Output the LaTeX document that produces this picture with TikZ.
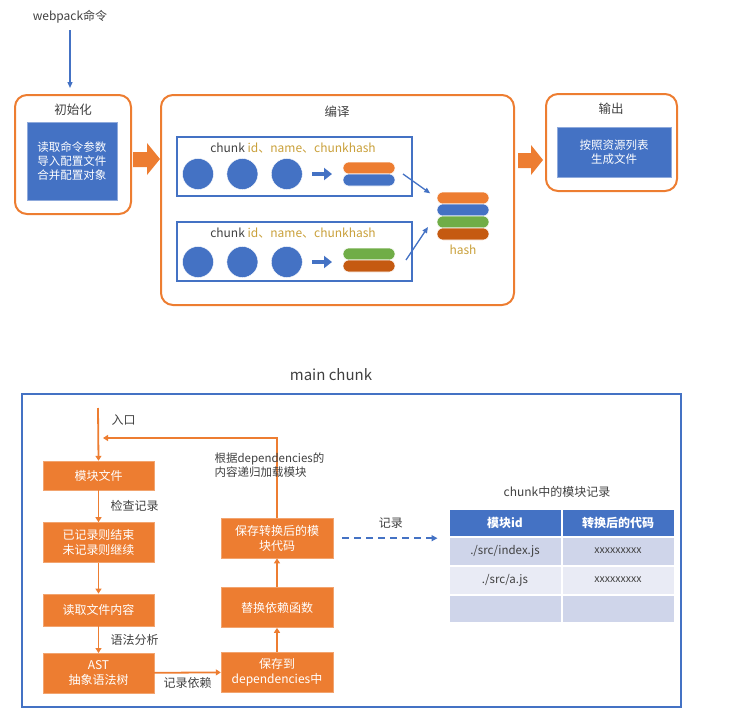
\documentclass[tikz,border=0pt]{standalone}
\usepackage{fontspec}
\setmainfont{Noto Sans CJK SC}
\usetikzlibrary{positioning,arrows.meta,calc}

\definecolor{orng}{HTML}{ED7D31}
\definecolor{blu}{HTML}{4472C4}
\definecolor{grn}{HTML}{70AD47}
\definecolor{brn}{HTML}{C55A11}
\definecolor{gold}{HTML}{C9A03A}
\definecolor{txt}{HTML}{404040}
\definecolor{rowa}{HTML}{CFD5EA}
\definecolor{rowb}{HTML}{E9EBF5}

\newcommand{\fs}[1]{\fontsize{#1pt}{\dimexpr#1pt*5/4\relax}\selectfont}

\begin{document}
\begin{tikzpicture}[
  x=1pt, y=-1pt,
  font=\fs{11.5}, text=txt,
  stagebox/.style={draw=orng, line width=2pt, rounded corners=12pt},
  bluebox/.style={fill=blu, draw=blu!60, text=white, align=center, font=\fs{11.5}, inner sep=0pt},
  chunkbox/.style={draw=blu, line width=1.5pt, minimum width=235pt, minimum height=59pt, inner sep=0pt},
  dot/.style={circle, fill=blu, draw=white, minimum size=31pt, inner sep=0pt},
  bar/.style={fill=#1, draw=white, line width=0.6pt, rounded corners=5.8pt, minimum width=52pt, minimum height=12pt, inner sep=0pt},
  stepbox/.style={fill=orng, draw=orng!70, text=white, align=center, minimum width=111pt, inner sep=0pt, font=\fs{12}},
  flow/.style={draw=orng, line width=1.8pt, -{Triangle[length=5pt,width=6pt]}},
  lbl/.style={font=\fs{12}, text=txt},
  cell/.style={draw=white, line width=1pt, minimum width=112pt, inner sep=0pt}
]
\useasboundingbox (0,0) rectangle (732,723);

% Top: stages
\node[font=\fs{12}] (cmd) at (70,17) {webpack命令};
\node[stagebox, minimum width=116pt, minimum height=119pt] (init) at (73,154.5) {};
\node[font=\fs{12.5}] (init_t) at (73,110) {初始化};
\node[bluebox, minimum width=90pt, minimum height=78pt] (init_b) at (72,161) {读取命令参数\\导入配置文件\\合并配置对象};
\draw[blu, line width=1.3pt, -{Triangle[length=6pt,width=5pt]}, shorten >=6pt] (70,30) -- (cmd.south |- init.north);

\node[stagebox, minimum width=353pt, minimum height=210pt] (comp) at (337.5,200) {};
\node[font=\fs{12.5}] (comp_t) at (337,112) {编译};

\node[stagebox, minimum width=131pt, minimum height=97pt] (outp) at (611.5,142.5) {};
\node[font=\fs{12.5}] (outp_t) at (611,109) {输出};
\node[bluebox, minimum width=114pt, minimum height=50pt] (outp_b) at (614,152) {按照资源列表\\生成文件};

% Block arrows between stages
\fill[orng] (133,152) -- (147,152) -- (147,143) -- (160,159) -- (147,175) -- (147,167) -- (133,167) -- cycle;
\fill[orng] (518,153) -- (531,153) -- (531,145) -- (543,160) -- (531,175) -- (531,168) -- (518,168) -- cycle;

% Chunks
\node[chunkbox] (ch1) at (294.5,166.5) {};
\node[chunkbox] (ch2) at (294.5,251.5) {};
\node[font=\fs{12}] (ch1_t) at (293,148) {chunk \textcolor{gold}{id、name、chunkhash}};
\node[font=\fs{12}] (ch2_t) at (293,233) {chunk \textcolor{gold}{id、name、chunkhash}};

\node[dot] (c11) at (198,174) {};
\node[dot, right=13pt of c11] (c12) {};
\node[dot, right=13pt of c12] (c13) {};
\node[dot] (c21) at (198,262) {};
\node[dot, right=13pt of c21] (c22) {};
\node[dot, right=13pt of c22] (c23) {};

\draw[blu, line width=4.5pt, -{Triangle[length=8pt,width=12pt]}] (312,174) -- (332,174);
\draw[blu, line width=4.5pt, -{Triangle[length=8pt,width=12pt]}] (312,262) -- (332,262);

\node[bar=orng] (b11) at (369,168) {};
\node[bar=blu] (b12) at (369,180) {};
\node[bar=grn] (b21) at (369,254) {};
\node[bar=brn] (b22) at (369,266) {};

% Hash
\node[bar=orng] (h1) at (463,198) {};
\node[bar=blu] (h2) at (463,210) {};
\node[bar=grn] (h3) at (463,222) {};
\node[bar=brn] (h4) at (463,234) {};
\node[text=gold, font=\fs{12}] (hash) at (463,250) {hash};

\draw[blu, line width=1.3pt, -{Triangle[length=6pt,width=5pt]}, shorten >=8pt] (403,174) -- (h1.west);
\draw[blu, line width=1.3pt, -{Triangle[length=6pt,width=5pt]}] (406,260) -- (428,227);

% Bottom: main chunk
\node[font=\fs{15}] (main_t) at (331,375) {main chunk};
\draw[blu, line width=1.2pt] (22,394) rectangle (681,707);

\node[stepbox, minimum height=29pt] (m1) at (98.5,475.5) {模块文件};
\node[stepbox, minimum height=40pt, below=32pt of m1] (m2) {已记录则结束\\未记录则继续};
\node[stepbox, minimum height=32pt, below=31pt of m2] (m3) {读取文件内容};
\node[stepbox, minimum height=40pt, below=27pt of m3] (m4) {AST\\抽象语法树};
\node[stepbox, minimum width=112pt, minimum height=40pt] (r1) at (277,672) {保存到\\dependencies中};
\node[stepbox, minimum width=112pt, minimum height=40pt, above=24pt of r1] (r2) {替换依赖函数};
\node[stepbox, minimum width=112pt, minimum height=40pt, above=29pt of r2] (r3) {保存转换后的模\\块代码};

\coordinate (entry) at (98,408);
\node[lbl, anchor=west] (entry_t) at (108,420) {入口};
\draw[flow] (entry) -- (m1.north);
\draw[flow] (m1) -- (m2) node[lbl, midway, anchor=west, xshift=8pt] (check) {检查记录};
\draw[flow] (m2) -- (m3);
\draw[flow] (m3) -- (m4) node[lbl, midway, anchor=west, xshift=8pt] (parse) {语法分析};
\draw[flow] (m4) -- (r1) node[lbl, midway, below=1pt] (dep) {记录依赖};
\draw[flow] (r1) -- (r2);
\draw[flow] (r2) -- (r3);
\draw[flow] (r3.north) |- ($(entry)+(5,30)$);
\node[anchor=west, align=left, font=\fs{11.5}] (loop_t) at (211,465) {根据dependencies的\\内容递归加载模块};

% Table of modules
\node[lbl] (tbl_t) at (557,492) {chunk中的模块记录};
\node[cell, fill=blu, text=white, minimum height=27pt, font=\fs{12}\bfseries] (t11) at (505,522.5) {模块id};
\node[cell, fill=blu, text=white, minimum height=27pt, font=\fs{12}\bfseries, right=0pt of t11] (t12) {转换后的代码};
\node[cell, fill=rowa, minimum height=28pt, below=0pt of t11] (t21) {./src/index.js};
\node[cell, fill=rowa, minimum height=28pt, font=\fs{10.5}, below=0pt of t12] (t22) {xxxxxxxxx};
\node[cell, fill=rowb, minimum height=28pt, below=0pt of t21] (t31) {./src/a.js};
\node[cell, fill=rowb, minimum height=28pt, font=\fs{10.5}, below=0pt of t22] (t32) {xxxxxxxxx};
\node[cell, fill=rowa, minimum height=27pt, below=0pt of t31] (t41) {};
\node[cell, fill=rowa, minimum height=27pt, below=0pt of t32] (t42) {};

\draw[blu, line width=1.6pt, dash pattern=on 7pt off 5pt, -{Triangle[length=6pt,width=6pt]}, shorten <=9pt, shorten >=11pt] (r3.east) -- (r3.east -| t21.west) node[lbl, midway, above=6pt] (rec) {记录};
\end{tikzpicture}
\end{document}
